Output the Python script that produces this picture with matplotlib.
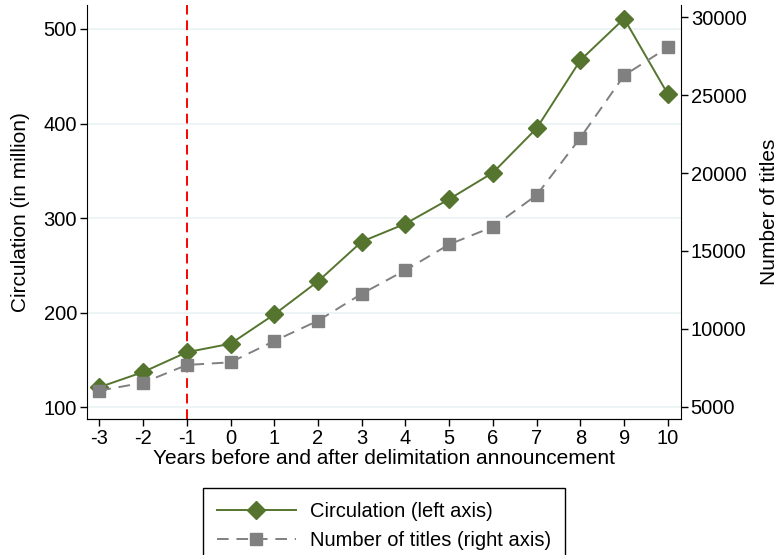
import numpy as np
import matplotlib
matplotlib.use('Agg')
import matplotlib.pyplot as plt

plt.rcParams['font.family'] = ['Liberation Sans', 'DejaVu Sans']

years = [-3, -2, -1, 0, 1, 2, 3, 4, 5, 6, 7, 8, 9, 10]
circulation = [121, 137, 158, 167, 198, 233, 275, 294, 320, 348, 395, 467, 511, 431]
titles = [6030, 6540, 7680, 7850, 9220, 10520, 12250, 13770, 15420, 16550, 18590, 22270, 26270, 28070]

left_ticks = [100, 200, 300, 400, 500]
right_ticks = [5000, 10000, 15000, 20000, 25000, 30000]

green = '#55752f'
gray = '#808080'

fig = plt.figure(figsize=(7.79, 5.55), dpi=100)
ax = fig.add_axes([0.1113, 0.2445, 0.7629, 0.7465])
ax2 = ax.twinx()

for t in left_ticks:
    ax.axhline(t, color='#eaf2f3', lw=1.2, zorder=0)
ax.axvline(-1, color='red', ls=(0, (5, 3)), lw=1.4, zorder=1)

l1, = ax.plot(years, circulation, color=green, lw=1.4, marker='D', ms=9,
              label='Circulation (left axis)', zorder=3)
l2, = ax2.plot(years, titles, color=gray, lw=1.4, ls=(0, (6, 4)), marker='s', ms=8,
               label='Number of titles (right axis)', zorder=2)

ax.set_xlim(-3.29, 10.3)
ax.set_ylim(87, 525.4)
ax2.set_ylim(4191, 30790)
ax.set_xticks(years)
ax.set_xticklabels([str(y) for y in years])
ax.set_yticks(left_ticks)
ax2.set_yticks(right_ticks)

for a in (ax, ax2):
    a.tick_params(labelsize=14.5, length=5, width=1, direction='out', pad=2)
    a.spines['top'].set_visible(False)
ax.spines['right'].set_visible(False)
ax2.spines['left'].set_visible(False)

ax.set_xlabel('Years before and after delimitation announcement', fontsize=15, labelpad=1)
ax.set_ylabel('Circulation (in million)', fontsize=15, labelpad=10)
ax2.set_ylabel('Number of titles', fontsize=15, rotation=90, labelpad=10)

fig.legend(handles=[l1, l2], loc='upper center', bbox_to_anchor=(0.493, 0.1207),
           fancybox=False, edgecolor='black', framealpha=1, fontsize=14.5,
           handlelength=3.9, handletextpad=0.7, labelspacing=0.5,
           borderpad=0.7, borderaxespad=0)

fig.savefig('out.png', dpi=100)
